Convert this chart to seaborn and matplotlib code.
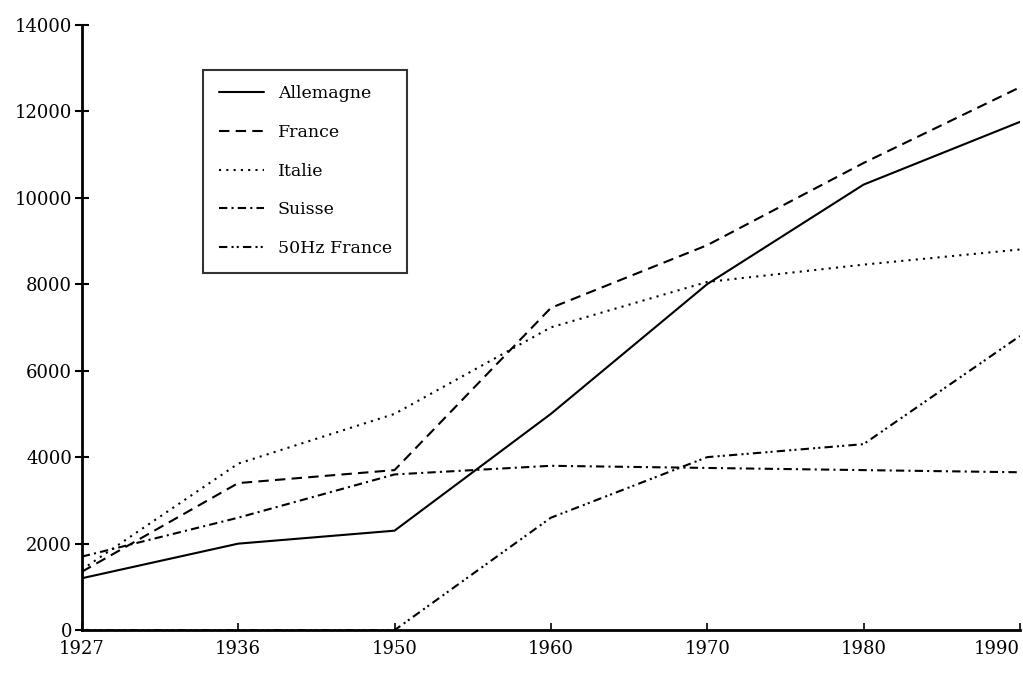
# Consommation d'electricite par pays, 1927-1990
#
# python plot.py


import matplotlib
matplotlib.use('Agg')
import matplotlib.pyplot as plt
import numpy as np
import pandas as pd
import seaborn as sns


years = ['1927', '1936', '1950', '1960', '1970', '1980', '1990']
allemagne = [1200, 2000, 2300, 5000, 8000, 10300, 11750]
france = [1350, 3400, 3700, 7450, 8900, 10800, 12550]
italie = [1400, 3850, 5000, 7000, 8050, 8450, 8800]
suisse = [1700, 2600, 3600, 3800, 3750, 3700, 3650]
hz50_france = [0, 0, 0, 2600, 4000, 4300, 6800]

series_names = ['Allemagne', 'France', 'Italie', 'Suisse', '50Hz France']
y_ticks = [0, 2000, 4000, 6000, 8000, 10000, 12000, 14000]


def line_chart(output_image_path='out.png'):
    """
    Line chart with one line style per country.
    """
    series_values = [allemagne, france, italie, suisse, hz50_france]
    rows = []
    for name, values in zip(series_names, series_values):
        for i, v in enumerate(values):
            rows.append({'pos': i, 'valeur': v, 'pays': name})
    df = pd.DataFrame(rows)

    sns.set_style('ticks', {'axes.edgecolor': 'black', 'text.color': 'black',
                            'xtick.color': 'black', 'ytick.color': 'black'})
    plt.rcParams['font.family'] = ['DejaVu Serif']

    fig = plt.figure(figsize=(10.23, 6.82), dpi=100)
    ax = fig.add_axes([0.080, 0.076, 0.917, 0.888])

    dashes = {
        'Allemagne': '',
        'France': (5, 3),
        'Italie': (1, 2.5),
        'Suisse': (4, 2, 1, 2),
        '50Hz France': (4, 2, 1, 1.5, 1, 2),
    }
    sns.lineplot(data=df, x='pos', y='valeur', style='pays',
                 style_order=series_names, dashes=dashes,
                 color='black', linewidth=1.5, ax=ax)

    ax.set_xlim(0, len(years) - 1)
    ax.set_ylim(0, 14000)
    ax.set_xticks(range(len(years)))
    ax.set_xticklabels(years)
    ax.get_xticklabels()[-1].set_horizontalalignment('right')
    ax.set_yticks(y_ticks)
    ax.set_xlabel('')
    ax.set_ylabel('')

    sns.despine(ax=ax)
    ax.spines['left'].set_linewidth(2)
    ax.spines['bottom'].set_linewidth(2)
    ax.tick_params(axis='y', direction='inout', length=10, width=1.5,
                   labelsize=13, pad=2, colors='black')
    ax.tick_params(axis='x', direction='in', length=5, width=1.2,
                   labelsize=13, pad=7, colors='black')

    leg = ax.legend(loc='upper left', bbox_to_anchor=(0.12, 0.94),
                    fontsize=12.5, frameon=True, fancybox=False,
                    handlelength=2.6, labelspacing=1.25,
                    borderpad=0.9, handletextpad=0.8)
    leg.get_frame().set_edgecolor('black')
    leg.get_frame().set_linewidth(1.5)
    for t in leg.get_texts():
        t.set_color('black')

    plt.savefig(output_image_path, dpi=100)


if __name__ == '__main__':
    line_chart()
